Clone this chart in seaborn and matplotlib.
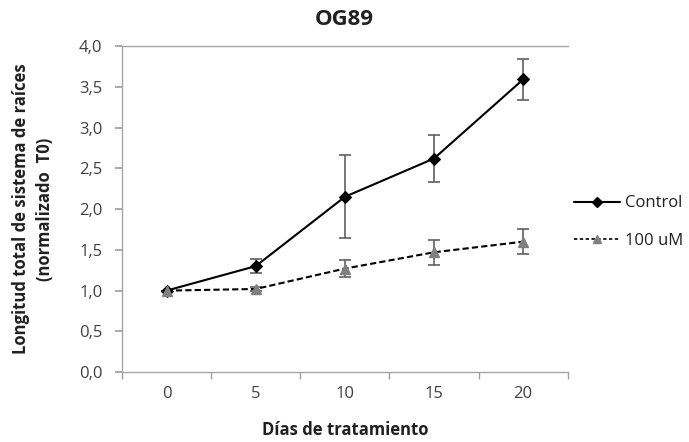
import matplotlib
matplotlib.use("Agg")
import matplotlib.pyplot as plt
import seaborn as sns
import pandas as pd
import numpy as np
from matplotlib.lines import Line2D

days = [0, 5, 10, 15, 20]
control = [1.00, 1.30, 2.15, 2.62, 3.59]
control_err = [0.00, 0.09, 0.51, 0.29, 0.25]
treated = [1.00, 1.02, 1.27, 1.47, 1.60]
treated_err = [0.00, 0.02, 0.10, 0.15, 0.15]
series_names = ["Control", "100 uM"]
yticks = [0.0, 0.5, 1.0, 1.5, 2.0, 2.5, 3.0, 3.5, 4.0]

sns.set_theme(style="white")
plt.rcParams['font.family'] = ['Open Sans', 'DejaVu Sans']

df = pd.DataFrame({
    "pos": list(range(len(days))) * 2,
    "val": control + treated,
    "serie": [series_names[0]] * len(days) + [series_names[1]] * len(days),
})

fig = plt.figure(figsize=(6.89, 4.42), dpi=100)
ax = fig.add_axes([0.177, 0.158, 0.647, 0.738])

pos = np.arange(len(days))
ax.errorbar(pos, control, yerr=control_err, fmt='none', ecolor='#606060', elinewidth=1.2, capsize=4, capthick=1.2, zorder=2)
ax.errorbar(pos, treated, yerr=treated_err, fmt='none', ecolor='#606060', elinewidth=1.2, capsize=4, capthick=1.2, zorder=2)

sns.lineplot(data=df[df.serie == series_names[0]], x="pos", y="val", ax=ax, color='black',
             marker='D', markersize=6, linewidth=1.5, markeredgecolor='black', zorder=3, legend=False)
sns.lineplot(data=df[df.serie == series_names[1]], x="pos", y="val", ax=ax, color='black',
             linestyle=(0, (3, 1.5)), linewidth=1.5, marker=None, zorder=3, legend=False)
ax.plot(pos, treated, linestyle='none', marker='^', markersize=7, color='#808080', zorder=4)

ax.set_xlim(-0.5, len(days) - 0.5)
ax.set_ylim(0, 4)
ax.set_yticks(yticks)
ax.set_yticklabels([f"{v:.1f}".replace('.', ',') for v in yticks], fontsize=12, color='#404040')
ax.set_xticks(pos)
ax.set_xticklabels([str(d) for d in days], fontsize=12, color='#404040')
ax.set_xticks(np.arange(-0.5, len(days) + 0.5, 1), minor=True)
ax.tick_params(axis='x', which='major', length=0, pad=10)
ax.tick_params(axis='x', which='minor', length=5, color='#a0a0a0', direction='out', bottom=True)
ax.tick_params(axis='y', which='major', length=5, color='#a0a0a0', direction='out', left=True, pad=9)

for s in ['left', 'bottom', 'top']:
    ax.spines[s].set_color('#a6a6a6')
    ax.spines[s].set_linewidth(1)
ax.spines['right'].set_visible(False)

ax.set_xlabel("Días de tratamiento", fontsize=12, fontweight='bold', color='#202020', labelpad=14)
ax.set_ylabel("Longitud total de sistema de raíces\n(normalizado  T0)", fontsize=12, fontweight='bold',
              color='#202020', labelpad=18, linespacing=1.45)
fig.text(0.5, 0.955, "OG89", ha='center', va='center', fontsize=16, fontweight='bold', color='#202020')

handles = [
    Line2D([0], [0], color='black', linewidth=1.5, marker='D', markersize=5),
    Line2D([0], [0], color='black', linewidth=1.2, linestyle=(0, (2, 1.5)), marker='^', markersize=6,
           markerfacecolor='#808080', markeredgecolor='#808080'),
]
leg = fig.legend(handles, series_names, loc='center left', bbox_to_anchor=(0.818, 0.497), frameon=False,
                 fontsize=12, handlelength=2.8, handletextpad=0.3, labelspacing=1.3, borderaxespad=0.2)
for t in leg.get_texts():
    t.set_color('#202020')

fig.savefig("out.png", dpi=100)
